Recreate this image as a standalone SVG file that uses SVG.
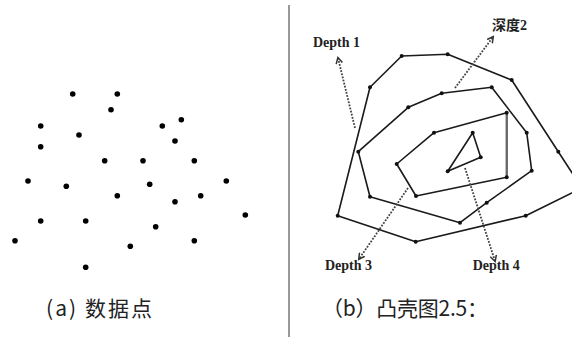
<svg xmlns="http://www.w3.org/2000/svg" width="572" height="337" viewBox="0 0 572 337">
<defs>
<marker id="ah" markerWidth="8" markerHeight="8" refX="6" refY="4" orient="auto" markerUnits="userSpaceOnUse">
<path d="M0.5,0.8 L6.5,4 L0.5,7.2" fill="none" stroke="#333" stroke-width="1.5"/>
</marker>
</defs>
<style>
.pt{fill:#000}
.hull{fill:none;stroke:#1a1a1a;stroke-width:1.6;stroke-linejoin:round}
.v{fill:#111}
.arr{fill:none;stroke:#444;stroke-width:1.8;stroke-dasharray:1.8 1.4;marker-end:url(#ah)}
.lbl{font-family:"Liberation Serif","Noto Sans CJK SC",serif;font-weight:bold;font-size:14px;fill:#222}
.cap{font-family:"Noto Sans CJK SC","Noto Sans",sans-serif;font-size:21px;fill:#222}
</style>
<rect width="572" height="337" fill="#fff"/>
<g id="points">
<circle class="pt" cx="72.7" cy="94" r="2.8"/>
<circle class="pt" cx="117.3" cy="94" r="2.8"/>
<circle class="pt" cx="111" cy="109.7" r="2.8"/>
<circle class="pt" cx="40.7" cy="126" r="2.8"/>
<circle class="pt" cx="79" cy="135" r="2.8"/>
<circle class="pt" cx="162.3" cy="126" r="2.8"/>
<circle class="pt" cx="181.3" cy="119.7" r="2.8"/>
<circle class="pt" cx="175" cy="141" r="2.8"/>
<circle class="pt" cx="40.7" cy="146.7" r="2.8"/>
<circle class="pt" cx="104.7" cy="160.7" r="2.8"/>
<circle class="pt" cx="143" cy="160.7" r="2.8"/>
<circle class="pt" cx="194.3" cy="160.7" r="2.8"/>
<circle class="pt" cx="28" cy="181" r="2.8"/>
<circle class="pt" cx="66.3" cy="186.3" r="2.8"/>
<circle class="pt" cx="149.7" cy="184.3" r="2.8"/>
<circle class="pt" cx="226.3" cy="181" r="2.8"/>
<circle class="pt" cx="117.3" cy="195.7" r="2.8"/>
<circle class="pt" cx="175" cy="201.7" r="2.8"/>
<circle class="pt" cx="200.7" cy="195.7" r="2.8"/>
<circle class="pt" cx="245.3" cy="215" r="2.8"/>
<circle class="pt" cx="40.7" cy="221" r="2.8"/>
<circle class="pt" cx="85.7" cy="221" r="2.8"/>
<circle class="pt" cx="155.7" cy="226.7" r="2.8"/>
<circle class="pt" cx="15" cy="240.7" r="2.8"/>
<circle class="pt" cx="130.3" cy="246.3" r="2.8"/>
<circle class="pt" cx="194.3" cy="240.7" r="2.8"/>
<circle class="pt" cx="85.7" cy="267.3" r="2.8"/>
</g>
<line x1="289" y1="5" x2="289" y2="337" stroke="#333" stroke-width="1"/>
<g id="hull1">
<polygon class="hull" points="401.7,56 447.7,54.3 511.7,80 558.3,151.7 582,188 525.7,215.7 415.7,241.7 337.7,215.7 370,87.3"/>
</g>
<g id="hull2">
<polygon class="hull" points="441.7,93.3 491.7,87.3 526.7,132.7 531.7,170.7 486.7,202.7 460,222.7 370,196.7 358.3,151.7 408.3,107.3"/>
</g>
<g id="hull3">
<polygon class="hull" points="434,132.7 506.7,112.7 506.7,177.3 416,196 396.7,164"/>
<line x1="506.7" y1="112.7" x2="506.7" y2="177.3" stroke="#666" stroke-width="2"/>
</g>
<g id="hull4">
<polygon class="hull" points="472.7,132.7 480.7,157.3 447.7,171.3"/>
</g>
<g id="vertices" class="v">
<circle cx="401.7" cy="56" r="2"/><circle cx="447.7" cy="54.3" r="2"/><circle cx="511.7" cy="80" r="2"/>
<circle cx="558.3" cy="151.7" r="2"/><circle cx="525.7" cy="215.7" r="2"/><circle cx="415.7" cy="241.7" r="2"/>
<circle cx="337.7" cy="215.7" r="2"/><circle cx="370" cy="87.3" r="2"/>
<circle cx="441.7" cy="93.3" r="2"/><circle cx="491.7" cy="87.3" r="2"/><circle cx="526.7" cy="132.7" r="2"/>
<circle cx="531.7" cy="170.7" r="2"/><circle cx="486.7" cy="202.7" r="2"/><circle cx="460" cy="222.7" r="2"/>
<circle cx="370" cy="196.7" r="2"/><circle cx="358.3" cy="151.7" r="2"/><circle cx="408.3" cy="107.3" r="2"/>
<circle cx="434" cy="132.7" r="2"/><circle cx="506.7" cy="112.7" r="2"/><circle cx="506.7" cy="177.3" r="2"/>
<circle cx="416" cy="196" r="2"/><circle cx="396.7" cy="164" r="2"/>
<circle cx="472.7" cy="132.7" r="2"/><circle cx="480.7" cy="157.3" r="2"/><circle cx="447.7" cy="171.3" r="2"/>
</g>
<g id="connectors">
<line class="arr" x1="355" y1="128" x2="338" y2="58"/>
<line class="arr" x1="455" y1="88" x2="493" y2="37"/>
<line class="arr" x1="408" y1="188" x2="359" y2="259"/>
<line class="arr" x1="465" y1="168" x2="495" y2="261"/>
</g>
<g id="labels">
<text class="lbl" x="313" y="46.7">Depth 1</text>
<text class="lbl" x="492" y="29.5">深度2</text>
<text class="lbl" x="325" y="270">Depth 3</text>
<text class="lbl" x="472.7" y="270">Depth 4</text>
</g>
<g id="captions">
<text class="cap" x="46" y="316" textLength="106" lengthAdjust="spacing">(a) 数据点</text>
<text class="cap" x="322" y="316" textLength="166" lengthAdjust="spacing">（b）凸壳图2.5：</text>
</g>
</svg>
